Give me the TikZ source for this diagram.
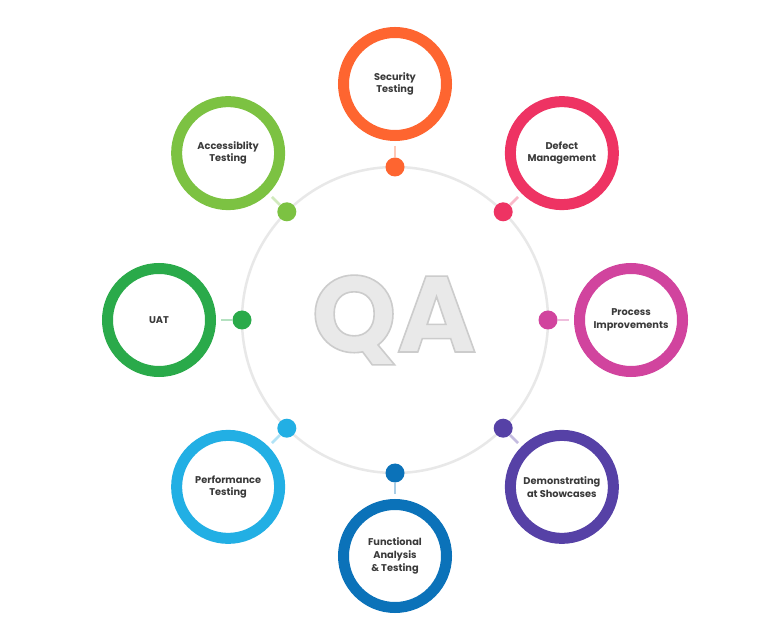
\documentclass[tikz,border=0pt]{standalone}
\usepackage{fontspec}
\setmainfont{Poppins}
\usetikzlibrary{calc}
\definecolor{csec}{HTML}{FE6530}
\definecolor{cdef}{HTML}{EE3363}
\definecolor{cpro}{HTML}{D1449E}
\definecolor{cdem}{HTML}{5641A6}
\definecolor{cfun}{HTML}{0B72B9}
\definecolor{cper}{HTML}{22AFE4}
\definecolor{cuat}{HTML}{2AAA4A}
\definecolor{cacc}{HTML}{7CC242}
\definecolor{ctxt}{HTML}{3A3A3A}
\definecolor{chub}{HTML}{E8E8E8}
\definecolor{cqa}{HTML}{E9E9E9}
\newcommand{\outlinedtext}[1]{\special{pdf:code 2 Tr 1.6 w 0.80 0.80 0.80 RG}#1\special{pdf:code 0 Tr}}
\tikzset{
  ring/.style={circle, draw=#1, line width=11pt, minimum size=103pt, inner sep=0pt,
    fill=white, align=center, text=ctxt, font=\bfseries\fontsize{9.8}{12.6}\selectfont},
  dot/.style={circle, fill=#1, minimum size=19pt, inner sep=0pt},
  link/.style={draw=#1!35!white, line width=2.5pt, shorten >=5pt},
  hubcircle/.style={circle, draw=chub, line width=2.5pt, minimum size=306pt, inner sep=0pt}
}
\begin{document}
\begin{tikzpicture}[x=1pt,y=1pt]
\useasboundingbox (0,0) rectangle (757,640);
\fill[white] (0,0) rectangle (757,640);
\node[hubcircle] (hub) at (395,320) {};
\node[text=cqa, font=\bfseries\fontsize{108}{108}\selectfont] (qa) at (394,320) {\outlinedtext{QA}};
% dots
\node[dot=csec] (d1) at ($(hub.center)+(90:153pt)$) {};
\node[dot=cdef] (d2) at ($(hub.center)+(45:153pt)$) {};
\node[dot=cpro] (d3) at ($(hub.center)+(0:153pt)$) {};
\node[dot=cdem] (d4) at ($(hub.center)+(-45:153pt)$) {};
\node[dot=cfun] (d5) at ($(hub.center)+(-90:153pt)$) {};
\node[dot=cper] (d6) at ($(hub.center)+(-135:153pt)$) {};
\node[dot=cuat] (d7) at ($(hub.center)+(180:153pt)$) {};
\node[dot=cacc] (d8) at ($(hub.center)+(135:153pt)$) {};
% rings
\node[ring=csec] (r1) at ($(hub.center)+(90:236pt)$) {Security\\Testing};
\node[ring=cdef] (r2) at ($(hub.center)+(45:236pt)$) {Defect\\Management};
\node[ring=cpro] (r3) at ($(hub.center)+(0:236pt)$) {Process\\Improvements};
\node[ring=cdem] (r4) at ($(hub.center)+(-45:236pt)$) {Demonstrating\\at Showcases};
\node[ring=cfun] (r5) at ($(hub.center)+(-90:236pt)$) {Functional\\Analysis\\\& Testing};
\node[ring=cper] (r6) at ($(hub.center)+(-135:236pt)$) {Performance\\Testing};
\node[ring=cuat] (r7) at ($(hub.center)+(180:236pt)$) {UAT};
\node[ring=cacc] (r8) at ($(hub.center)+(135:236pt)$) {Accessiblity\\Testing};
% connectors
\draw[link=csec] (d1) -- (r1);
\draw[link=cdef] (d2) -- (r2);
\draw[link=cpro] (d3) -- (r3);
\draw[link=cdem] (d4) -- (r4);
\draw[link=cfun] (d5) -- (r5);
\draw[link=cper] (d6) -- (r6);
\draw[link=cuat] (d7) -- (r7);
\draw[link=cacc] (d8) -- (r8);
\end{tikzpicture}
\end{document}
